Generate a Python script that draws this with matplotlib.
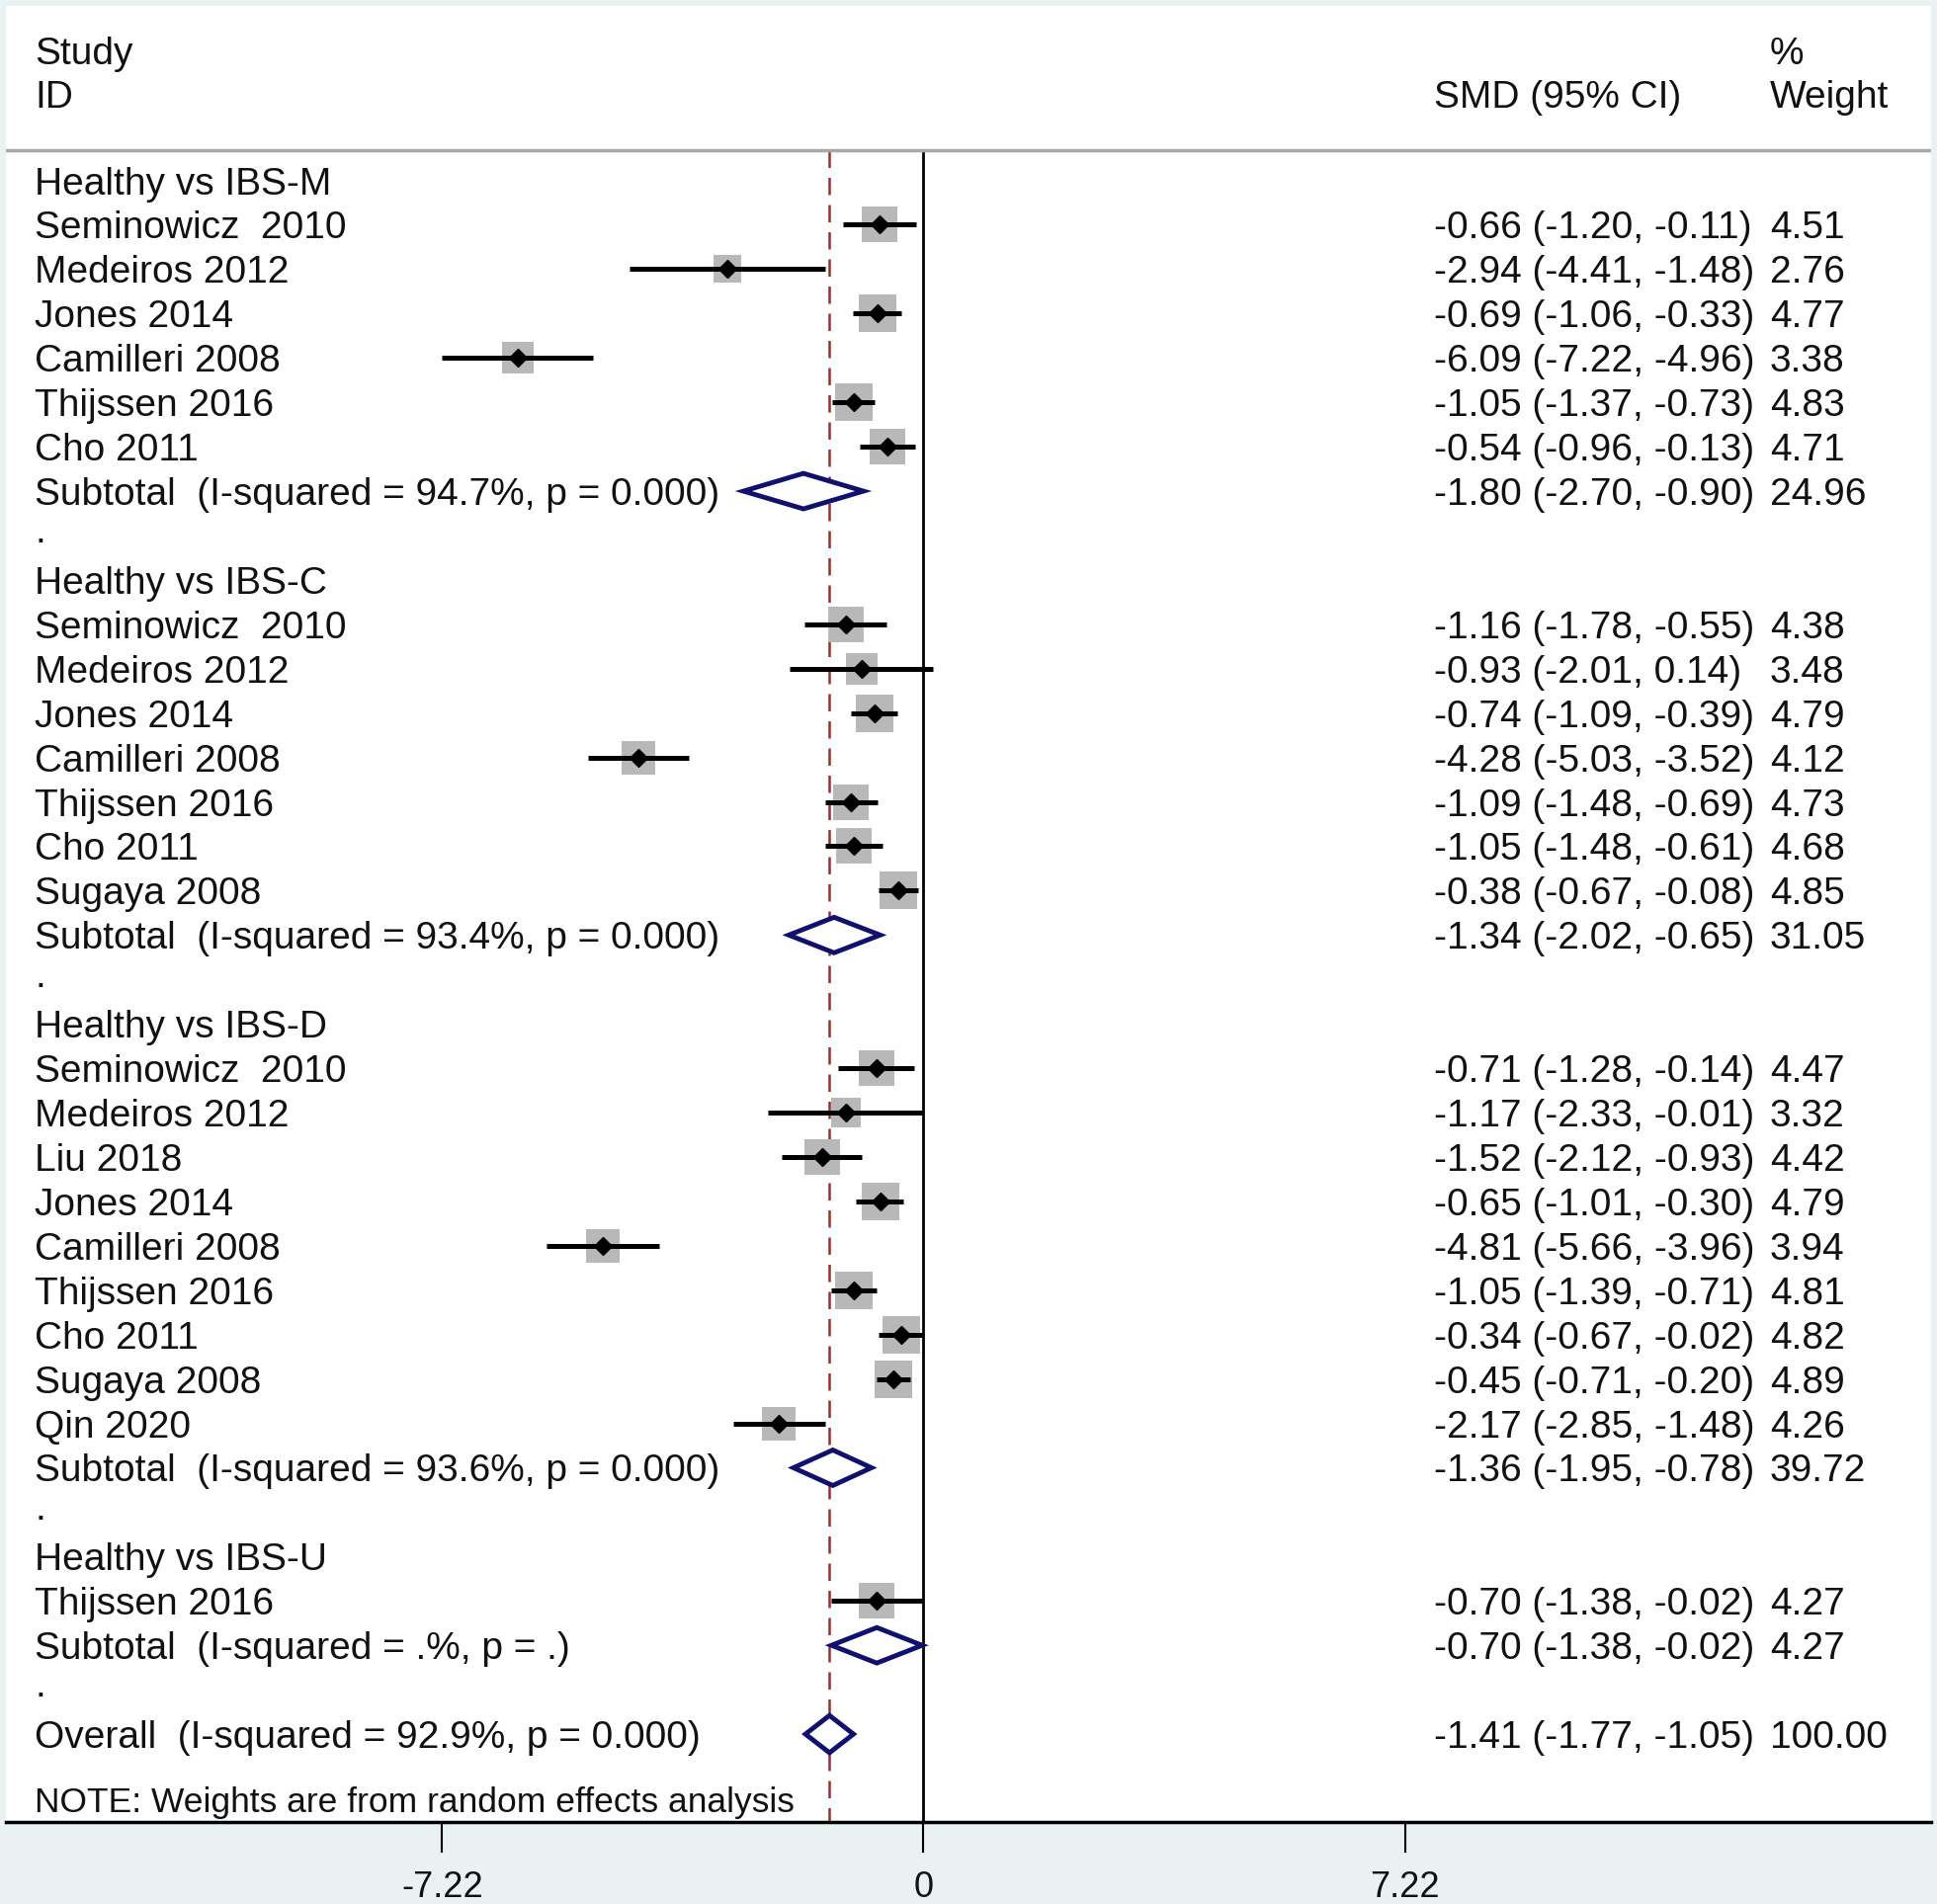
import matplotlib
matplotlib.use("Agg")
import matplotlib.pyplot as plt
import numpy as np

plt.rcParams['font.family'] = ['Liberation Sans', 'DejaVu Sans']

# ---- data ----
groups = ['Healthy vs IBS-M', 'Healthy vs IBS-C', 'Healthy vs IBS-D', 'Healthy vs IBS-U']

studies_m = ['Seminowicz  2010', 'Medeiros 2012', 'Jones 2014', 'Camilleri 2008', 'Thijssen 2016', 'Cho 2011']
smd_m = [-0.66, -2.94, -0.69, -6.09, -1.05, -0.54]
lo_m = [-1.20, -4.41, -1.06, -7.22, -1.37, -0.96]
hi_m = [-0.11, -1.48, -0.33, -4.96, -0.73, -0.13]
w_m = [4.51, 2.76, 4.77, 3.38, 4.83, 4.71]

studies_c = ['Seminowicz  2010', 'Medeiros 2012', 'Jones 2014', 'Camilleri 2008', 'Thijssen 2016', 'Cho 2011', 'Sugaya 2008']
smd_c = [-1.16, -0.93, -0.74, -4.28, -1.09, -1.05, -0.38]
lo_c = [-1.78, -2.01, -1.09, -5.03, -1.48, -1.48, -0.67]
hi_c = [-0.55, 0.14, -0.39, -3.52, -0.69, -0.61, -0.08]
w_c = [4.38, 3.48, 4.79, 4.12, 4.73, 4.68, 4.85]

studies_d = ['Seminowicz  2010', 'Medeiros 2012', 'Liu 2018', 'Jones 2014', 'Camilleri 2008', 'Thijssen 2016', 'Cho 2011', 'Sugaya 2008', 'Qin 2020']
smd_d = [-0.71, -1.17, -1.52, -0.65, -4.81, -1.05, -0.34, -0.45, -2.17]
lo_d = [-1.28, -2.33, -2.12, -1.01, -5.66, -1.39, -0.67, -0.71, -2.85]
hi_d = [-0.14, -0.01, -0.93, -0.30, -3.96, -0.71, -0.02, -0.20, -1.48]
w_d = [4.47, 3.32, 4.42, 4.79, 3.94, 4.81, 4.82, 4.89, 4.26]

studies_u = ['Thijssen 2016']
smd_u = [-0.70]
lo_u = [-1.38]
hi_u = [-0.02]
w_u = [4.27]

sub_smd = [-1.80, -1.34, -1.36, -0.70]
sub_lo = [-2.70, -2.02, -1.95, -1.38]
sub_hi = [-0.90, -0.65, -0.78, -0.02]
sub_w = [24.96, 31.05, 39.72, 4.27]
sub_i2 = ['94.7%, p = 0.000', '93.4%, p = 0.000', '93.6%, p = 0.000', '.%, p = .']

overall_smd = -1.41
overall_lo = -1.77
overall_hi = -1.05
overall_w = 100.00
overall_i2 = '92.9%, p = 0.000'

xtick_vals = [-7.22, 0, 7.22]
xtick_labels = ['-7.22', '0', '7.22']

all_groups = [
    (studies_m, smd_m, lo_m, hi_m, w_m),
    (studies_c, smd_c, lo_c, hi_c, w_c),
    (studies_d, smd_d, lo_d, hi_d, w_d),
    (studies_u, smd_u, lo_u, hi_u, w_u),
]

# ---- figure ----
W, H = 1960, 1927
fig = plt.figure(figsize=(W / 100, H / 100), dpi=100, facecolor='#EAF1F3')
ax = fig.add_axes([6 / W, 1 - 1844 / H, 1948 / W, (1844 - 6) / H])
ax.set_facecolor('white')

FS = 28
navy = '#10106E'
x_id = -13.33
x_ci = 7.65
x_w = 12.69

def fmt(v):
    return '{:.2f}'.format(v)

def txt(x, y, s, fs=FS):
    ax.text(x, y, s, fontsize=fs, va='center_baseline', ha='left', color='#111111')

# headers
txt(x_id, -2.93, 'Study')
txt(x_id, -1.95, 'ID')
txt(x_ci, -1.95, 'SMD (95% CI)')
txt(x_w, -2.93, '%')
txt(x_w, -1.95, 'Weight')
ax.axhline(-0.68, color='#A8A8A8', lw=2.5)

row = 0
for g, (names, est, lo, hi, w) in enumerate(all_groups):
    txt(x_id, row, groups[g])
    row += 1
    for i in range(len(names)):
        side = 16.95 * np.sqrt(w[i]) * 0.72
        ax.scatter(est[i], row, marker='s', s=side ** 2, color='#B8B8B8', lw=0, zorder=2)
        ax.plot([lo[i], hi[i]], [row, row], color='black', lw=3.6, solid_capstyle='butt', zorder=3)
        ax.plot(est[i], row, marker='D', ms=9, color='black', zorder=4)
        txt(x_id, row, names[i])
        txt(x_ci, row, '{} ({}, {})'.format(fmt(est[i]), fmt(lo[i]), fmt(hi[i])))
        txt(x_w, row, fmt(w[i]))
        row += 1
    h = 0.4
    ax.fill([sub_lo[g], sub_smd[g], sub_hi[g], sub_smd[g]], [row, row - h, row, row + h],
            facecolor='white', edgecolor=navy, lw=3.5, zorder=3)
    txt(x_id, row, 'Subtotal  (I-squared = {})'.format(sub_i2[g]))
    txt(x_ci, row, '{} ({}, {})'.format(fmt(sub_smd[g]), fmt(sub_lo[g]), fmt(sub_hi[g])))
    txt(x_w, row, fmt(sub_w[g]))
    row += 1
    txt(x_id, row - 0.15, '.')
    row += 1

# overall
h = 0.42
ax.fill([overall_lo, overall_smd, overall_hi, overall_smd], [row, row - h, row, row + h],
        facecolor='white', edgecolor=navy, lw=3.5, zorder=3)
txt(x_id, row, 'Overall  (I-squared = {})'.format(overall_i2))
txt(x_ci, row, '{} ({}, {})'.format(fmt(overall_smd), fmt(overall_lo), fmt(overall_hi)))
txt(x_w, row, fmt(overall_w))
txt(x_id, 36.47, 'NOTE: Weights are from random effects analysis', fs=25.5)

ylim_bottom = 36.98
ax.vlines(0, -0.68, ylim_bottom, color='black', lw=2, zorder=1)
ax.vlines(overall_smd, -0.68, ylim_bottom, color='#9B2D30', lw=1.8, linestyles=(0, (7, 4)), zorder=1)

ax.set_xlim(-13.76, 15.11)
ax.set_ylim(ylim_bottom, -3.93)
for s in ['left', 'right', 'top']:
    ax.spines[s].set_visible(False)
ax.spines['bottom'].set_linewidth(2.5)
ax.set_yticks([])
ax.set_xticks(xtick_vals)
ax.set_xticklabels(xtick_labels, fontsize=FS - 2, color='#111111')
ax.tick_params(axis='x', direction='out', length=22, width=1.5, pad=13)

fig.savefig('out.png', dpi=100, facecolor=fig.get_facecolor())
